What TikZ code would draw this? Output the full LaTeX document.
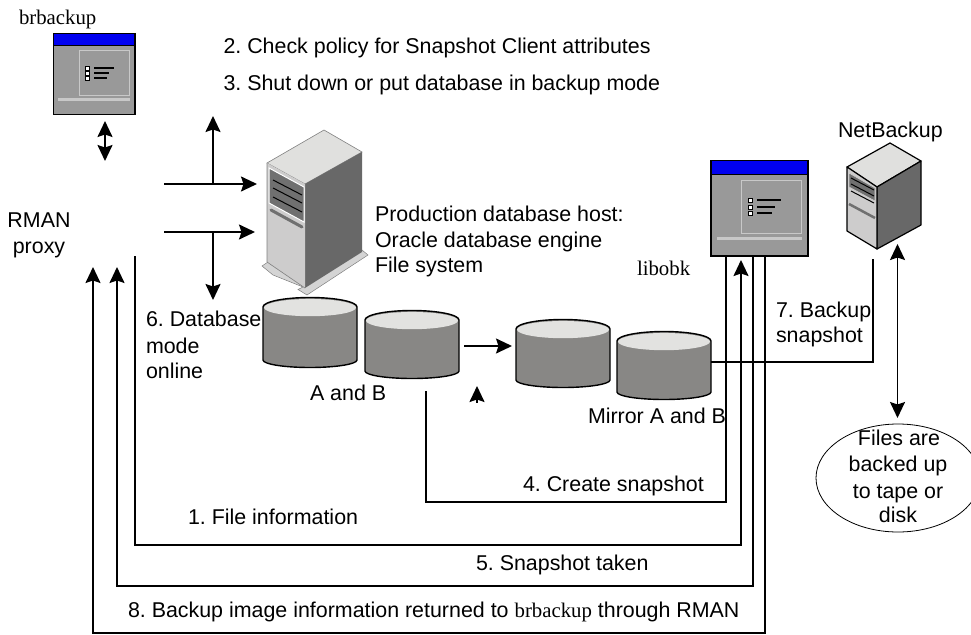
\documentclass[tikz,border=0pt]{standalone}
\usepackage{fontspec}
\setmainfont{Liberation Sans}
\newfontfamily\timesf{Liberation Serif}
\frenchspacing
\usetikzlibrary{arrows.meta,shapes.geometric}
\definecolor{wingrey}{HTML}{999999}
\definecolor{winline}{HTML}{C8C8C8}
\definecolor{winblue}{HTML}{0000F0}
\definecolor{cylbody}{HTML}{888785}
\definecolor{cyltop}{HTML}{E2E2E0}
\definecolor{srvtop}{HTML}{E0E0DE}
\definecolor{srvleft}{HTML}{CDCCCC}
\definecolor{srvright}{HTML}{686868}
\definecolor{srvslot}{HTML}{707070}
\tikzset{
  txt/.style={anchor=base west,inner sep=0pt,outer sep=0pt,font=\fontsize{21.4}{25}\selectfont},
  ttxt/.style={anchor=base west,inner sep=0pt,outer sep=0pt,font=\timesf\fontsize{20.8}{25}\selectfont},
  ctxt/.style={txt,anchor=base},
  conn/.style={draw=black,line width=1.8pt},
  arr/.style={conn,-{Stealth[length=16pt,width=15pt,inset=2.5pt]}},
  darr/.style={conn,{Stealth[length=16pt,width=15pt,inset=2.5pt]}-{Stealth[length=16pt,width=15pt,inset=2.5pt]}},
}
\newcommand{\winicon}[9]{%
  \fill[wingrey] (#1,#2) rectangle (#3,#4);
  \fill[winblue] (#1,#2) rectangle (#3,#5);
  \draw[black,line width=1pt] (#1,#5) -- (#3,#5);
  \draw[winline,line width=1pt] (#6,#7) rectangle (#8,#9);
  \draw[black,line width=1.6pt] (#1,#2) rectangle (#3,#4);
}
\newcommand{\cylinder}[4]{%
  \path[fill=cylbody,draw=black,line width=1.4pt]
    (#1,#3) -- (#1,#4) arc[start angle=180,end angle=360,x radius={(#2-#1)/2*1pt},y radius=7.5pt]
    -- (#2,#3) arc[start angle=0,end angle=180,x radius={(#2-#1)/2*1pt},y radius=9.5pt] -- cycle;
  \fill[cyltop] ({(#1+#2)/2},{#3+0.6}) ellipse[x radius={((#2-#1)/2-1)*1pt},y radius=8.6pt];
}
\begin{document}
\begin{tikzpicture}[x=1pt,y=-1pt]
\useasboundingbox (0,0) rectangle (971,634);

% --- client window
\winicon{53.5}{33.5}{135}{114.5}{46}{79.5}{51}{129}{95}
\fill[winline] (58,98) rectangle (130,101);
\foreach \yy/\xe in {68/114,73/109,78/107}{
  \fill[white,draw=black,line width=.4pt] (85.5,\yy-1.8) rectangle (89,\yy+1.8);
  \draw[black,line width=1.5pt] (94,\yy) -- (\xe,\yy);
}
% --- libobk window
\winicon{711}{160.5}{808}{256}{174}{741.5}{180.5}{801}{233}
\fill[winline] (717,237) rectangle (802,240);
\foreach \yy/\xe in {200/781,207/775,213/772}{
  \fill[white,draw=black,line width=.4pt] (748,\yy-2) rectangle (752,\yy+2);
  \draw[black,line width=1.5pt] (757,\yy) -- (\xe,\yy);
}

% --- production host
\fill[srvleft!85!white,draw=gray,line width=.5pt]
  (262,266) -- (268,262) -- (305,285) -- (362,250) -- (368,255) -- (307,295) -- (298,289.5) -- (303,287) -- (273,275) -- cycle;
\fill[srvtop,draw=gray,line width=.6pt] (324,130) -- (267,163) -- (305,184) -- (362,152) -- cycle;
\fill[srvright] (305,184) -- (362,152) -- (362,252) -- (305,288) -- cycle;
\fill[srvleft] (267,163) -- (305,184) -- (305,288) -- (267,262) -- cycle;
\draw[gray,line width=.6pt] (267,163) -- (267,262) -- (305,288);
\fill[srvslot,draw=white,line width=1pt] (269,168) -- (304,187) -- (304,222) -- (269,203) -- cycle;
\foreach \ya/\yb in {180/195,188/203,197/212}
  \draw[black,line width=1pt] (273,\ya) -- (302,\yb);
\draw[srvslot,line width=3pt,line cap=round] (271,210) -- (302,227);

% --- NetBackup server
\path[fill=srvtop,draw=black,line width=1.2pt,line join=round] (890,143) -- (847,167) -- (877,187) -- (921,161) -- cycle;
\path[fill=srvright,draw=black,line width=1.2pt,line join=round] (877,187) -- (921,161) -- (921,225) -- (877,249) -- cycle;
\path[fill=srvleft,draw=black,line width=1.2pt,line join=round] (847,167) -- (877,187) -- (877,249) -- (847,231) -- cycle;
\fill[srvslot,draw=srvleft,line width=.6pt] (849,173) -- (875,188) -- (875,201) -- (849,187) -- cycle;
\foreach \ya/\yb in {181/193,187/199,194/206}
  \draw[black,line width=1pt] (851,\ya-3) -- (874,\yb-3);
\draw[srvslot,line width=2.5pt] (849,204) -- (875,218);

% --- disks
\cylinder{263}{357}{307}{360}
\cylinder{365}{459}{320}{371}
\cylinder{516}{610}{329}{380}
\cylinder{617}{711}{341}{392}

% --- tape/disk ellipse
\node[draw=black,line width=.8pt,ellipse,minimum width=164pt,minimum height=108pt,inner sep=0pt] (tape) at (898,478) {};

% --- connector end points
\coordinate (winA) at (105,121);
\coordinate (rmanTop) at (105,161);
\coordinate (p1) at (164,184);
\coordinate (p1e) at (257,184);
\coordinate (p1j) at (213,184);
\coordinate (p1u) at (213,116);
\coordinate (p2) at (164,232);
\coordinate (p2e) at (255,232);
\coordinate (p2j) at (213,232);
\coordinate (p2d) at (213,300);
\coordinate (diskA) at (464,346);
\coordinate (mirror) at (512,346);
\coordinate (stray0) at (477,402.5);
\coordinate (stray1) at (477,386);
\coordinate (snapS) at (426,391);
\coordinate (snapC) at (426,502);
\coordinate (snapD) at (726,502);
\coordinate (snapE) at (726,256);
\coordinate (fiS) at (135,256);
\coordinate (fiC) at (135,545);
\coordinate (fiD) at (741,545);
\coordinate (fiE) at (741,260);
\coordinate (stE) at (117,267);
\coordinate (stC) at (117,586);
\coordinate (stD) at (753,586);
\coordinate (stS) at (753,256);
\coordinate (biE) at (93,267);
\coordinate (biC) at (93,633);
\coordinate (biD) at (765,633);
\coordinate (biS) at (765,256);
\coordinate (bsS) at (711,362);
\coordinate (bsC) at (873,362);
\coordinate (bsE) at (873,259);
\coordinate (tapeTop) at (897.5,418);
\coordinate (nbBot) at (897.5,244);

% --- connectors
\draw[darr] (winA) -- (rmanTop);
\draw[arr] (p1) -- (p1e);
\draw[arr] (p1j) -- (p1u);
\draw[arr] (p2) -- (p2e);
\draw[arr] (p2j) -- (p2d);
\draw[arr] (diskA) -- (mirror);
\draw[arr] (stray0) -- (stray1);
\draw[conn] (snapS) -- (snapC) -- (snapD) -- (snapE);
\draw[arr] (fiS) -- (fiC) -- (fiD) -- (fiE);
\draw[arr] (stS) -- (stD) -- (stC) -- (stE);
\draw[arr] (biS) -- (biD) -- (biC) -- (biE);
\draw[conn,line width=1.3pt] (bsS) -- (bsC) -- (bsE);
\draw[darr] (nbBot) -- (tapeTop);

% --- labels
\node[ttxt] (lbrb) at (19,25) {brbackup};
\node[ttxt] (llib) at (637,275) {libobk};
\node[txt] (l2) at (223.5,53) {2. Check policy for Snapshot Client attributes};
\node[txt] (l3) at (223.5,90) {3. Shut down or put database in backup mode};
\node[ctxt] (lrman) at (39,227) {RMAN};
\node[ctxt] (lproxy) at (39,253) {proxy};
\node[txt] (lhost1) at (375,221) {Production database host:};
\node[txt] (lhost2) at (375,247) {Oracle database engine};
\node[txt] (lhost3) at (375,272) {File system};
\node[txt] (l6a) at (146,326) {6. Database};
\node[txt] (l6b) at (146,353) {mode};
\node[txt] (l6c) at (146,378) {online};
\node[txt] (lab) at (310,400) {A and B};
\node[txt] (lmab) at (588,423) {Mirror A and B};
\node[txt] (l4) at (523,491) {4. Create snapshot};
\node[txt] (l1) at (188,524) {1. File information};
\node[txt] (l5) at (476,570) {5. Snapshot taken};
\node[txt] (l8) at (128,617) {8. Backup image information returned to {\timesf\fontsize{20.8}{25}\selectfont brbackup} through RMAN};
\node[txt] (lnb) at (838,137) {NetBackup};
\node[txt] (l7a) at (776,317) {7. Backup};
\node[txt] (l7b) at (776,342) {snapshot};
\node[ctxt] (lf1) at (899,445) {Files are};
\node[ctxt] (lf2) at (898,471) {backed up};
\node[ctxt] (lf3) at (898,498) {to tape or};
\node[ctxt] (lf4) at (898,522) {disk};
\end{tikzpicture}
\end{document}
